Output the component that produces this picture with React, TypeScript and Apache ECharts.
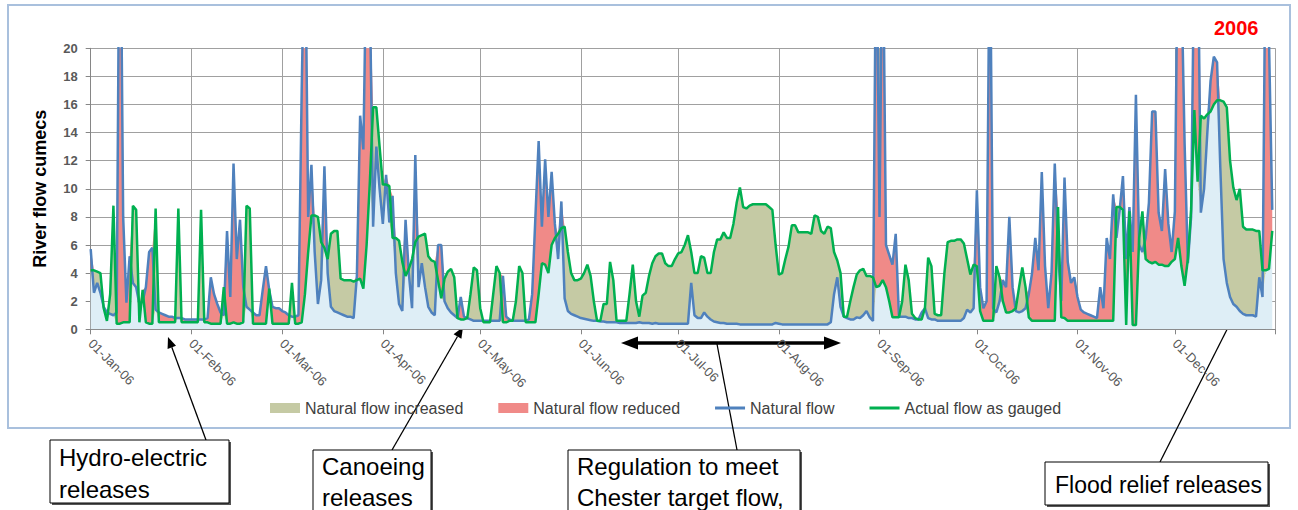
import React, { useEffect, useRef } from 'react';
import * as echarts from 'echarts';

const FONT = "'Liberation Sans', Arial, sans-serif";
const MONTHS = ['Jan', 'Feb', 'Mar', 'Apr', 'May', 'Jun', 'Jul', 'Aug', 'Sep', 'Oct', 'Nov', 'Dec'];
const tickLabels = ['01-Jan-06', '01-Feb-06', '01-Mar-06', '01-Apr-06', '01-May-06', '01-Jun-06', '01-Jul-06', '01-Aug-06', '01-Sep-06', '01-Oct-06', '01-Nov-06', '01-Dec-06'];
const yTicks = { min: 0, max: 20, step: 2 };
const legendNames = ['Natural flow increased', 'Natural flow reduced', 'Natural flow', 'Actual flow as gauged'];

// Natural flow (cumecs), daily, by month
const natJan = [5.7, 2.6, 3.3, 2.6, 1.6, 1.2, 1.1, 1.0, 1.2, 35, 8.0, 1.9, 5.2, 3.3, 3.0, 1.8, 2.0, 3.0, 5.5, 5.8, 1.4, 1.2, 1.1, 1.0, 0.9, 0.9, 0.8, 0.8, 0.8, 0.7, 0.7];
const natFeb = [0.7, 0.7, 0.7, 0.7, 0.7, 0.8, 3.7, 2.5, 1.8, 1.2, 1.0, 7.0, 2.3, 11.8, 5.0, 7.8, 3.0, 1.6, 1.4, 1.2, 1.0, 1.0, 2.8, 4.5, 2.8, 1.6, 1.5, 1.5];
const natMar = [1.3, 1.2, 1.0, 0.9, 0.9, 1.0, 17, 30, 8.0, 11.7, 5.5, 1.8, 3.5, 11.6, 4.0, 1.6, 1.3, 1.2, 1.1, 1.0, 0.9, 0.9, 0.8, 3.8, 15.2, 12.8, 28, 24, 7.3, 13, 10];
const natApr = [7.5, 11.0, 7.6, 9.5, 4.0, 1.8, 1.3, 7.8, 4.0, 1.5, 12.4, 3.0, 4.7, 3.0, 1.6, 1.2, 1.0, 6.0, 6.0, 2.0, 1.5, 1.2, 1.0, 0.8, 2.3, 0.9, 0.8, 0.7, 0.6, 0.6];
const natMay = [0.6, 0.6, 0.6, 0.6, 0.6, 0.6, 0.6, 3.8, 0.9, 0.7, 0.6, 0.6, 0.6, 0.6, 0.6, 0.7, 2.5, 8.0, 13.4, 7.3, 12.1, 8.0, 11.2, 7.5, 5.0, 9.1, 2.2, 1.3, 1.1, 1.0, 0.9];
const natJun = [0.8, 0.75, 0.7, 0.65, 0.6, 0.6, 0.55, 0.55, 0.5, 0.5, 0.5, 0.5, 0.45, 0.45, 0.45, 0.45, 0.45, 0.45, 0.5, 0.45, 0.45, 0.45, 0.4, 0.45, 0.4, 0.4, 0.4, 0.4, 0.4, 0.4];
const natJul = [0.4, 0.4, 0.4, 0.4, 3.3, 1.0, 0.8, 0.8, 1.2, 0.9, 0.7, 0.55, 0.5, 0.45, 0.45, 0.4, 0.4, 0.4, 0.4, 0.35, 0.35, 0.35, 0.35, 0.35, 0.35, 0.35, 0.35, 0.35, 0.35, 0.35, 0.45];
const natAug = [0.4, 0.35, 0.35, 0.35, 0.35, 0.35, 0.35, 0.35, 0.35, 0.35, 0.35, 0.35, 0.35, 0.35, 0.35, 0.35, 0.5, 2.5, 3.7, 1.6, 0.9, 0.8, 0.7, 0.7, 0.85, 0.8, 1.0, 1.3, 0.85, 0.6, 30];
const natSep = [8.0, 30, 6.0, 5.3, 4.6, 6.8, 0.9, 0.9, 0.9, 0.8, 0.8, 0.7, 0.7, 1.2, 1.5, 0.8, 0.7, 0.7, 0.6, 0.6, 0.6, 0.6, 0.6, 0.6, 0.6, 0.6, 0.8, 1.4, 1.2, 1.5];
const natOct = [9.9, 3.0, 1.5, 2.0, 30, 1.5, 1.2, 2.0, 3.5, 3.0, 8.0, 3.0, 1.3, 1.2, 1.3, 1.5, 2.5, 4.0, 6.5, 4.2, 11.2, 4.5, 1.5, 4.0, 11.8, 5.5, 2.0, 10.8, 4.8, 3.3, 3.7];
const natNov = [2.3, 1.4, 1.2, 1.1, 1.0, 0.9, 0.8, 3.0, 1.5, 6.5, 5.0, 9.6, 6.5, 8.5, 10.9, 5.0, 8.7, 5.5, 16.7, 6.0, 5.5, 6.5, 9.0, 15.5, 15.5, 8.3, 7.0, 11.4, 7.5, 5.5];
const natDec = [8.4, 30, 25, 13.2, 4.7, 8.0, 28, 30, 8.3, 10.0, 14.0, 17.7, 19.4, 19.0, 11.5, 5.0, 3.3, 2.3, 1.8, 1.6, 1.3, 1.1, 1.0, 1.0, 1.0, 0.9, 3.7, 2.3, 30, 20.5, 8.5];

// Actual flow as gauged (cumecs), daily, by month
const actJan = [4.2, 4.2, 4.1, 4.0, 1.5, 0.6, 2.5, 8.8, 0.4, 0.4, 0.5, 0.5, 0.5, 8.8, 8.5, 0.5, 2.8, 0.5, 0.4, 0.4, 8.6, 0.5, 0.5, 0.5, 0.5, 0.5, 0.5, 8.6, 0.5, 0.5, 0.5];
const actFeb = [0.5, 0.5, 0.5, 8.5, 0.5, 0.5, 0.4, 0.4, 0.4, 0.4, 3.0, 0.4, 0.4, 0.5, 0.4, 0.4, 0.5, 8.8, 8.6, 0.4, 0.4, 0.4, 0.4, 0.4, 2.9, 0.4, 0.4, 0.4];
const actMar = [0.4, 0.4, 0.4, 3.3, 0.4, 0.4, 0.5, 2.5, 5.5, 8.1, 8.1, 8.0, 6.2, 5.8, 5.0, 6.8, 7.0, 7.0, 3.6, 3.5, 3.5, 3.5, 3.4, 3.5, 3.6, 2.9, 6.0, 10.5, 15.8, 15.8, 13.0];
const actApr = [10.3, 10.3, 10.2, 6.5, 6.5, 6.3, 4.8, 3.8, 4.3, 5.0, 6.2, 6.6, 6.7, 6.8, 5.2, 4.9, 4.8, 3.5, 2.2, 3.6, 4.1, 4.3, 3.7, 0.8, 0.7, 0.7, 0.8, 2.5, 4.4, 4.2];
const actMay = [1.5, 0.5, 0.5, 0.5, 2.5, 4.5, 4.0, 0.5, 0.5, 0.6, 0.6, 2.0, 4.5, 4.0, 0.5, 0.5, 0.5, 0.5, 2.5, 4.7, 4.6, 4.0, 6.0, 6.5, 6.8, 7.2, 7.3, 5.5, 4.0, 3.5, 3.5];
const actJun = [3.6, 4.0, 4.6, 3.8, 2.0, 0.6, 0.6, 1.8, 1.8, 4.8, 3.5, 0.6, 0.6, 0.6, 0.6, 2.5, 4.6, 2.0, 0.9, 2.4, 2.6, 3.8, 4.7, 5.2, 5.4, 5.4, 4.7, 4.5, 4.5, 5.0];
const actJul = [5.4, 5.5, 6.0, 6.7, 5.5, 4.0, 4.0, 5.2, 5.1, 4.0, 4.0, 5.5, 6.4, 6.4, 6.9, 6.5, 6.5, 7.5, 9.0, 10.1, 8.7, 8.6, 8.8, 8.9, 8.9, 8.9, 8.9, 8.9, 8.7, 8.5, 6.0];
const actAug = [3.9, 4.0, 5.0, 5.9, 7.4, 7.4, 6.9, 6.9, 6.9, 6.9, 6.8, 8.1, 8.0, 7.0, 6.8, 7.3, 7.2, 5.5, 4.9, 4.0, 0.9, 0.9, 2.0, 3.0, 3.9, 4.2, 4.3, 3.8, 3.8, 3.7, 3.0];
const actSep = [3.1, 3.5, 3.0, 2.0, 0.85, 0.85, 0.85, 2.0, 4.6, 3.5, 1.1, 0.8, 0.7, 0.7, 1.5, 5.1, 4.5, 1.1, 1.0, 1.0, 4.0, 6.2, 6.3, 6.3, 6.4, 6.4, 6.1, 5.0, 3.9, 4.6];
const actOct = [4.5, 1.3, 0.6, 0.6, 0.6, 0.6, 4.5, 3.7, 2.0, 1.2, 1.2, 1.3, 1.5, 3.0, 4.4, 3.0, 0.85, 0.6, 0.6, 0.6, 0.6, 0.6, 0.6, 0.6, 0.6, 8.7, 0.85, 0.8, 0.6, 0.6, 0.6];
const actNov = [0.6, 0.6, 0.6, 0.6, 0.6, 0.6, 0.6, 0.6, 0.6, 0.6, 0.6, 0.6, 8.7, 8.7, 8.5, 0.3, 8.4, 0.3, 0.3, 6.5, 8.4, 5.0, 4.8, 4.7, 4.8, 4.6, 4.6, 4.5, 4.5, 4.8];
const actDec = [5.0, 6.5, 4.5, 3.1, 5.0, 8.5, 15.6, 10.5, 15.2, 15.0, 15.3, 15.5, 16.0, 16.3, 16.3, 16.2, 15.8, 12.0, 10.1, 9.2, 10.0, 7.3, 7.1, 7.1, 7.1, 7.0, 7.0, 4.2, 4.2, 4.3, 7.0];

const natural = [...natJan, ...natFeb, ...natMar, ...natApr, ...natMay, ...natJun, ...natJul, ...natAug, ...natSep, ...natOct, ...natNov, ...natDec];
const actual = [...actJan, ...actFeb, ...actMar, ...actApr, ...actMay, ...actJun, ...actJul, ...actAug, ...actSep, ...actOct, ...actNov, ...actDec];

// Daily categories 1 Jan 2006 .. 1 Jan 2007 (the last one closes the axis)
const categories: string[] = [];
for (let i = 0; i < 366; i++) {
  const d = new Date(Date.UTC(2006, 0, 1 + i));
  categories.push(`${String(d.getUTCDate()).padStart(2, '0')}-${MONTHS[d.getUTCMonth()]}-${String(d.getUTCFullYear()).slice(2)}`);
}
const monthStart = categories.map((c) => c.startsWith('01-'));

const r3 = (v: number) => Math.round(v * 1000) / 1000;
const baseFill = natural.map((n, i) => r3(Math.min(n, actual[i])));
const incFill = natural.map((n, i) => r3(Math.max(actual[i] - n, 0)));
const redFill = natural.map((n, i) => r3(Math.max(n - actual[i], 0)));

const C_BASE = '#deeef6';
const C_INC = '#c5caa4';
const C_RED = '#f08a88';
const C_NAT = '#4f81bd';
const C_ACT = '#00b050';

// legend line icon: a 30x3 bar centred in a 30x10 box (tiny specks fix the box)
const LINE_ICON = 'path://M0,3.6h30v2.8h-30z M0,0h0.01v0.01h-0.01z M29.99,9.99h0.01v0.01h-0.01z';

function arrow(x0: number, y0: number, x1: number, y1: number, head = 11, half = 4.5, lw = 1.3) {
  const dx = x1 - x0, dy = y1 - y0, L = Math.hypot(dx, dy);
  const ux = dx / L, uy = dy / L, nx = -uy, ny = ux;
  const bx = x1 - ux * head, by = y1 - uy * head;
  return [
    { type: 'line', shape: { x1: x0, y1: y0, x2: bx, y2: by }, style: { stroke: '#000', lineWidth: lw } },
    { type: 'polygon', shape: { points: [[x1, y1], [bx + nx * half, by + ny * half], [bx - nx * half, by - ny * half]] }, style: { fill: '#000' } },
  ];
}

function box(x: number, y: number, w: number, h: number, lines: string[], tx: number, tys: number[], size = 24) {
  const els: any[] = [
    { type: 'rect', shape: { x: x + 2, y: y + 2, width: w, height: h }, style: { fill: '#555' } },
    { type: 'rect', shape: { x, y, width: w, height: h }, style: { fill: '#fff', stroke: '#000', lineWidth: 1 } },
  ];
  lines.forEach((t, k) => {
    els.push({ type: 'text', x: tx, y: tys[k], style: { text: t, fill: '#000', font: `${size}px ${FONT}`, textAlign: 'left', textVerticalAlign: 'middle' } });
  });
  return els;
}

const graphicElements: any[] = [
  { type: 'rect', shape: { x: 8, y: 5, width: 1282, height: 423 }, style: { fill: 'none', stroke: '#a9c0dd', lineWidth: 2 }, silent: true },
  ...arrow(206, 440, 168, 337),
  ...arrow(392, 450, 463, 327),
  { type: 'line', shape: { x1: 737, y1: 450, x2: 717, y2: 344 }, style: { stroke: '#000', lineWidth: 1.3 } },
  { type: 'line', shape: { x1: 634, y1: 343, x2: 828, y2: 343 }, style: { stroke: '#000', lineWidth: 3.5 } },
  { type: 'polygon', shape: { points: [[621, 343], [638, 336.5], [638, 349.5]] }, style: { fill: '#000' } },
  { type: 'polygon', shape: { points: [[841, 343], [824, 336.5], [824, 349.5]] }, style: { fill: '#000' } },
  ...arrow(1160, 462, 1246, 292),
  ...box(50, 440, 179, 63, ['Hydro-electric', 'releases'], 59, [457, 489]),
  ...box(313, 450, 118, 80, ['Canoeing', 'releases'], 322, [466, 497]),
  ...box(568, 450, 232, 80, ['Regulation to meet', 'Chester target flow,'], 577, [466, 497]),
  ...box(1045, 462, 223, 43, ['Flood relief releases'], 1055, [485], 23),
];

const areaSeries = (name: string, data: number[], color: string) => ({
  name,
  type: 'line',
  stack: 'flow',
  data,
  symbol: 'none',
  showSymbol: false,
  color,
  itemStyle: { color },
  lineStyle: { width: 0, color },
  areaStyle: { color, opacity: 1 },
  silent: true,
  z: 2,
});

const option: any = {
  animation: false,
  textStyle: { fontFamily: FONT },
  title: {
    text: '2006', left: 1214, top: 18, padding: 0,
    textStyle: { color: '#ff0000', fontWeight: 'bold', fontSize: 20, fontFamily: FONT },
  },
  legend: {
    left: 270, top: 400, padding: 0, itemWidth: 30, itemHeight: 10, itemGap: 35,
    textStyle: { fontSize: 16, color: '#404040', fontFamily: FONT },
    data: [
      { name: legendNames[0], icon: 'rect' },
      { name: legendNames[1], icon: 'rect' },
      { name: legendNames[2], icon: LINE_ICON },
      { name: legendNames[3], icon: LINE_ICON },
    ],
  },
  grid: { left: 90.7, right: 22.5, top: 48.3, bottom: 180.7 },
  xAxis: {
    type: 'category',
    data: categories,
    boundaryGap: false,
    axisLine: { lineStyle: { color: '#868686' } },
    axisTick: { show: true, interval: (i: number) => monthStart[i], length: 5, lineStyle: { color: '#868686' } },
    splitLine: { show: true, interval: (i: number) => monthStart[i], lineStyle: { color: '#a0a0a0', width: 1 } },
    axisLabel: {
      interval: (i: number) => monthStart[i] && i < 365,
      rotate: -45, margin: 12, color: '#595959', fontSize: 13, hideOverlap: false,
      formatter: (v: string) => (tickLabels.includes(v) ? v : ''),
    },
  },
  yAxis: {
    type: 'value', min: yTicks.min, max: yTicks.max, interval: yTicks.step,
    name: 'River flow cumecs', nameLocation: 'middle', nameGap: 42, nameRotate: 90,
    nameTextStyle: { fontWeight: 'bold', fontSize: 18, color: '#000', fontFamily: FONT },
    axisLine: { show: true, lineStyle: { color: '#868686' } },
    axisTick: { show: true, length: 5, lineStyle: { color: '#868686' } },
    axisLabel: { color: '#595959', fontSize: 13, fontWeight: 'bold', margin: 13 },
    splitLine: { lineStyle: { color: '#a0a0a0', width: 1 } },
  },
  series: [
    areaSeries('base', baseFill, C_BASE),
    areaSeries(legendNames[0], incFill, C_INC),
    areaSeries(legendNames[1], redFill, C_RED),
    {
      name: legendNames[2], type: 'line', data: natural, symbol: 'none', showSymbol: false,
      color: C_NAT, itemStyle: { color: C_NAT }, lineStyle: { color: C_NAT, width: 2.5 }, z: 3,
    },
    {
      name: legendNames[3], type: 'line', data: actual, symbol: 'none', showSymbol: false,
      color: C_ACT, itemStyle: { color: C_ACT }, lineStyle: { color: C_ACT, width: 2.5 }, z: 4,
    },
  ],
  graphic: { elements: graphicElements },
};

export default function App() {
  const ref = useRef<HTMLDivElement>(null);
  useEffect(() => {
    const chart = echarts.init(ref.current as HTMLDivElement, null, { renderer: 'svg' });
    chart.setOption(option);
    return () => chart.dispose();
  }, []);
  return <div ref={ref} style={{ position: 'absolute', left: 0, top: 0, width: 1298, height: 510, background: '#fff' }} />;
}
